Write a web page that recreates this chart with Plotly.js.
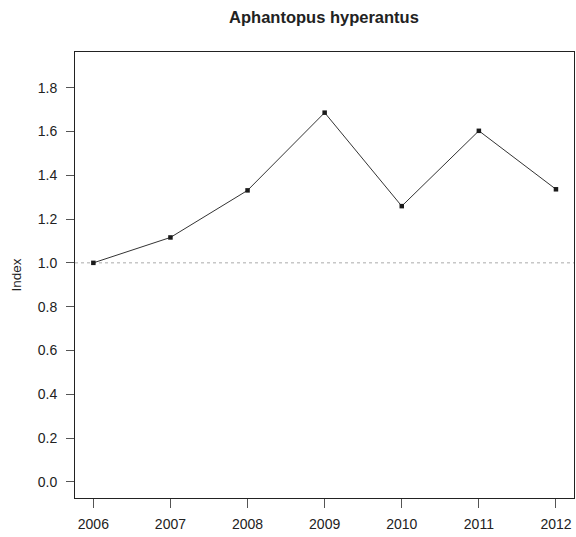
<!DOCTYPE html>
<html>
<head>
<meta charset="utf-8">
<script src="https://cdn.plot.ly/plotly-3.0.1.min.js"></script>
<style>html,body{margin:0;padding:0;background:#fff;}#chart{width:576px;height:537px;}</style>
</head>
<body>
<div id="chart"></div>
<script>
const years = [2006, 2007, 2008, 2009, 2010, 2011, 2012];
const indexValues = [1.0, 1.116, 1.331, 1.686, 1.259, 1.603, 1.336];
const yTicks = [0.0, 0.2, 0.4, 0.6, 0.8, 1.0, 1.2, 1.4, 1.6, 1.8];
const yTickLabels = ["0.0", "0.2", "0.4", "0.6", "0.8", "1.0", "1.2", "1.4", "1.6", "1.8"];
const baseline = 1.0;
const title = "Aphantopus hyperantus";
const yLabel = "Index";

const font = "Liberation Sans, Arial, Helvetica, sans-serif";

const trace = {
  x: years,
  y: indexValues,
  type: "scatter",
  mode: "lines+markers",
  line: {color: "#333", width: 1},
  marker: {symbol: "square", size: 4.5, color: "#1a1a1a"},
  hoverinfo: "x+y"
};

const layout = {
  width: 576,
  height: 537,
  margin: {l: 75, r: 2.3, t: 52, b: 38.5},
  paper_bgcolor: "#fff",
  plot_bgcolor: "#fff",
  showlegend: false,
  title: {
    text: "<b>" + title + "</b>",
    font: {family: font, size: 16.5, color: "#222"},
    x: 0.5625, xanchor: "center",
    y: 1 - 23/537, yanchor: "bottom", yref: "container"
  },
  xaxis: {
    range: [2005.762, 2012.234],
    tickmode: "array",
    tickvals: years,
    ticktext: years.map(String),
    ticks: "outside",
    ticklen: 8.5,
    tickcolor: "#555",
    tickwidth: 1,
    showgrid: false,
    zeroline: false,
    showline: true,
    linecolor: "#222",
    linewidth: 1,
    mirror: true,
    tickfont: {family: font, size: 14, color: "#222"},
    ticklabelstandoff: 5
  },
  yaxis: {
    range: [-0.074, 1.963],
    tickmode: "array",
    tickvals: yTicks,
    ticktext: yTickLabels,
    ticks: "outside",
    ticklen: 8,
    tickcolor: "#555",
    tickwidth: 1,
    showgrid: false,
    zeroline: false,
    showline: true,
    linecolor: "#222",
    linewidth: 1,
    mirror: true,
    tickfont: {family: font, size: 14, color: "#222"},
    ticklabelstandoff: 6,
    title: {text: yLabel, font: {family: font, size: 13.5, color: "#222"}, standoff: 13}
  },
  shapes: [{
    type: "line", xref: "paper", x0: 0, x1: 1, yref: "y", y0: baseline, y1: baseline,
    line: {color: "#aaa", width: 1, dash: "3px,3px"}, layer: "below"
  }]
};

Plotly.newPlot("chart", [trace], layout, {displayModeBar: false, staticPlot: true});
</script>
</body>
</html>
